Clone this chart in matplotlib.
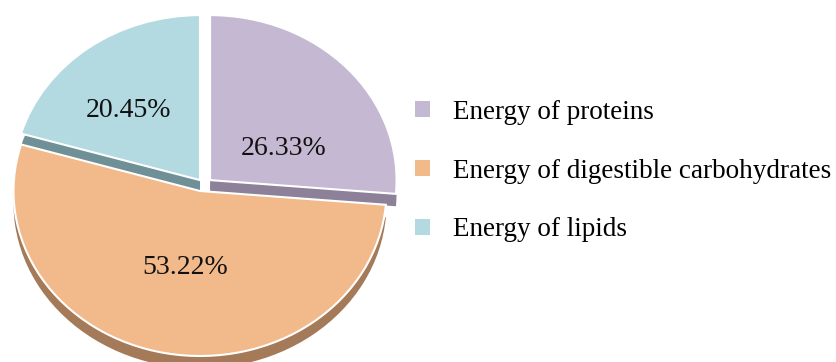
'''
Energy share pie chart
'''
import matplotlib.pyplot as plt
from matplotlib.patches import Patch

plt.rcParams['font.family'] = ['Liberation Serif', 'DejaVu Serif']

categories = ['Energy of proteins', 'Energy of digestible carbohydrates', 'Energy of lipids']
shares     = [26.33, 53.22, 20.45]
labels     = ['26.33%', '53.22%', '20.45%']

top_colors  = ['#c4b8d2', '#f2b98b', '#b3d9e1']
side_colors = ['#8c8198', '#a47a58', '#6f9097']
# slice offsets (x, y) in axis units, imitating the raised 3D slices
offsets     = [(0.054, 0.066), (0.0, 0.0), (0.0, 0.066)]
label_pos   = [(0.450, 0.26), (-0.080, -0.465), (-0.386, 0.49)]
depth       = 0.075
# --------------------------------
def _shift(wedges, dy=0.0):
    for wdg, (ox, oy) in zip(wedges, offsets):
        cx, cy = wdg.center
        wdg.set_center((cx + ox, cy + oy + dy))
# --------------------------------
def main():
    fig = plt.figure(figsize=(8.36, 3.62), dpi=100)
    ax  = fig.add_axes([-5.15 / 836, -10.5 / 362, 410.3 / 836, 363 / 362])

    side, _ = ax.pie(shares, colors=side_colors, startangle=90, counterclock=False,
                     wedgeprops=dict(edgecolor='none'))
    _shift(side, dy=-depth)

    top, _ = ax.pie(shares, colors=top_colors, startangle=90, counterclock=False,
                    wedgeprops=dict(edgecolor='white', linewidth=1.5))
    _shift(top)

    for text, (x, y) in zip(labels, label_pos):
        ax.text(x, y, text, ha='center', va='center', fontsize=20, color='#111111')

    ax.set_aspect('auto')
    ax.set_xlim(-1.1, 1.1)
    ax.set_ylim(-1.1, 1.1)
    ax.axis('off')

    handles = [Patch(facecolor=col, edgecolor='none') for col in top_colors]
    fig.legend(handles, categories, loc='upper left', bbox_to_anchor=(0.467, 0.792),
               frameon=False, fontsize=19.5, handlelength=0.56, handleheight=0.56,
               handletextpad=0.85, labelspacing=1.25)

    fig.savefig('out.png', dpi=100)
    plt.close(fig)
# --------------------------------
if __name__ == '__main__':
    main()
